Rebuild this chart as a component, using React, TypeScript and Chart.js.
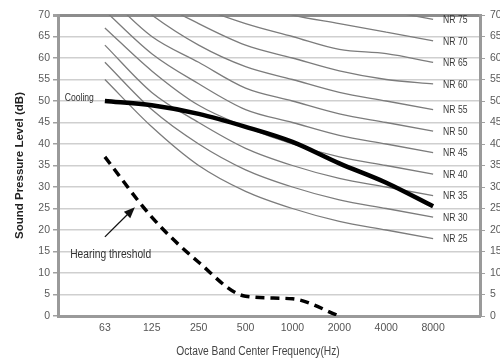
import { useEffect, useRef } from 'react';
import { Chart, registerables } from 'chart.js';

Chart.register(...registerables);

// Categories (blank ends give the margins before 63 Hz and after 8000 Hz)
const frequencies = ['', '63', '125', '250', '500', '1000', '2000', '4000', '8000', ''];

// NR curve values at 63 ... 8000 Hz
const nr25 = [null, 55, 44, 35, 29, 25, 22, 20, 18, null];
const nr30 = [null, 59, 48, 40, 34, 30, 27, 25, 23, null];
const nr35 = [null, 63, 52, 45, 39, 35, 32, 30, 28, null];
const nr40 = [null, 67, 57, 49, 44, 40, 37, 35, 33, null];
const nr45 = [null, 71, 61, 54, 48, 45, 42, 40, 38, null];
const nr50 = [null, 75, 65, 59, 53, 50, 47, 45, 43, null];
const nr55 = [null, 79, 70, 63, 58, 55, 52, 50, 48, null];
const nr60 = [null, 83, 74, 68, 63, 60, 57, 55, 54, null];
const nr65 = [null, 87, 78, 72, 68, 65, 62, 61, 59, null];
const nr70 = [null, 91, 83, 77, 73, 70, 68, 66, 64, null];
const nr75 = [null, 95, 87, 82, 78, 75, 73, 71, 69, null];

const nrCurves = [
  { label: 'NR 25', data: nr25 },
  { label: 'NR 30', data: nr30 },
  { label: 'NR 35', data: nr35 },
  { label: 'NR 40', data: nr40 },
  { label: 'NR 45', data: nr45 },
  { label: 'NR 50', data: nr50 },
  { label: 'NR 55', data: nr55 },
  { label: 'NR 60', data: nr60 },
  { label: 'NR 65', data: nr65 },
  { label: 'NR 70', data: nr70 },
  { label: 'NR 75', data: nr75 },
];

const cooling = [null, 50, 49, 47, 44, 40.5, 35.5, 31, 25.5, null];
const hearingThreshold = [null, 37, 23, 12.5, 4.6, 4, 0, null, null, null];

const yMin = 0;
const yMax = 70;
const yStep = 5;

const SANS = "'Liberation Sans', Arial, sans-serif";
const SQUEEZE = 0.82;

function narrowText(ctx: CanvasRenderingContext2D, text: string, x: number, y: number) {
  ctx.save();
  ctx.translate(x, y);
  ctx.scale(SQUEEZE, 1);
  ctx.fillText(text, 0, 0);
  ctx.restore();
}

const labelsPlugin = {
  id: 'nrLabels',
  afterDatasetsDraw(chart: any) {
    const ctx = chart.ctx;
    const xs = chart.scales.x;
    const ys = chart.scales.y;
    ctx.save();
    ctx.textBaseline = 'middle';
    // NR labels at the end of each curve
    ctx.font = `10.5px ${SANS}`;
    ctx.fillStyle = '#3a3a3a';
    ctx.textAlign = 'left';
    chart.data.datasets.forEach((ds: any, i: number) => {
      if (!ds.nrLabel) return;
      const meta = chart.getDatasetMeta(i);
      const pt = meta.data[8];
      if (!pt) return;
      narrowText(ctx, ds.nrLabel, pt.x + 10, pt.y + 1);
    });

    // Cooling label
    const coolMeta = chart.getDatasetMeta(0);
    const cp = coolMeta.data[1];
    ctx.font = `10.5px ${SANS}`;
    ctx.fillStyle = '#333';
    ctx.textAlign = 'right';
    narrowText(ctx, 'Cooling', cp.x - 11, cp.y - 3);

    // Hearing threshold annotation
    ctx.font = `12.5px ${SANS}`;
    ctx.textAlign = 'left';
    ctx.fillStyle = '#333';
    narrowText(ctx, 'Hearing threshold', xs.getPixelForValue(0.26), ys.getPixelForValue(14.2));

    const x1 = xs.getPixelForValue(1.0);
    const y1 = ys.getPixelForValue(18.4);
    const x2 = xs.getPixelForValue(1.64);
    const y2 = ys.getPixelForValue(25.3);
    const ang = Math.atan2(y2 - y1, x2 - x1);
    ctx.strokeStyle = '#111';
    ctx.fillStyle = '#111';
    ctx.lineWidth = 1.3;
    ctx.beginPath();
    ctx.moveTo(x1, y1);
    ctx.lineTo(x2 - 8 * Math.cos(ang), y2 - 8 * Math.sin(ang));
    ctx.stroke();
    ctx.beginPath();
    ctx.moveTo(x2, y2);
    ctx.lineTo(x2 - 11 * Math.cos(ang) + 4.5 * Math.sin(ang), y2 - 11 * Math.sin(ang) - 4.5 * Math.cos(ang));
    ctx.lineTo(x2 - 11 * Math.cos(ang) - 4.5 * Math.sin(ang), y2 - 11 * Math.sin(ang) + 4.5 * Math.cos(ang));
    ctx.closePath();
    ctx.fill();

    // x-axis title
    ctx.font = `12.5px ${SANS}`;
    ctx.fillStyle = '#444';
    ctx.textAlign = 'center';
    narrowText(ctx, 'Octave Band Center Frequency(Hz)', chart.width / 2 + 8, chart.height - 7.5);
    ctx.restore();
  },
};

export default function App() {
  const ref = useRef<HTMLCanvasElement>(null);

  useEffect(() => {
    if (!ref.current) return;
    const datasets: any[] = [
      {
        label: 'Cooling',
        data: cooling,
        borderColor: '#000',
        borderWidth: 4.5,
        pointRadius: 0,
        cubicInterpolationMode: 'monotone',
        order: 0,
      },
      {
        label: 'Hearing threshold',
        data: hearingThreshold,
        borderColor: '#000',
        borderWidth: 3.5,
        borderDash: [9, 6],
        borderCapStyle: 'butt',
        pointRadius: 0,
        cubicInterpolationMode: 'monotone',
        order: 1,
      },
      ...nrCurves.map((c) => ({
        label: c.label,
        nrLabel: c.label,
        data: c.data,
        borderColor: '#7c7c7c',
        borderWidth: 1.3,
        pointRadius: 0,
        cubicInterpolationMode: 'monotone',
        order: 2,
      })),
    ];

    const tickFont = { family: SANS, size: 10.5 };

    const chart = new Chart(ref.current, {
      type: 'line',
      data: { labels: frequencies, datasets },
      options: {
        animation: false,
        responsive: true,
        maintainAspectRatio: false,
        layout: { padding: { top: 15, left: 0, right: 0, bottom: 0 } },
        plugins: { legend: { display: false }, tooltip: { enabled: false } },
        scales: {
          x: {
            type: 'category',
            offset: false,
            afterFit: (s: any) => { s.height = 43; },
            grid: { drawOnChartArea: false, drawTicks: true, tickLength: 2, color: '#b0b0b0' },
            border: { color: '#9a9a9a', width: 3 },
            ticks: {
              autoSkip: false,
              maxRotation: 0,
              padding: 4,
              color: '#555',
              font: tickFont,
            },
          },
          y: {
            position: 'left',
            min: yMin,
            max: yMax,
            afterFit: (s: any) => { s.width = 58; },
            ticks: {
              stepSize: yStep,
              padding: 3,
              color: '#5a5a5a',
              font: tickFont,
            },
            grid: {
              color: (c: any) => (c.tick && c.tick.value === yMax ? '#8c8c8c' : '#cfcfcf'),
              lineWidth: (c: any) => (c.tick && c.tick.value === yMax ? 3 : 1.5),
              tickColor: '#a0a0a0',
              tickLength: 5,
            },
            border: { color: '#9a9a9a', width: 3 },
            title: {
              display: true,
              text: 'Sound Pressure Level (dB)',
              color: '#222',
              font: { family: SANS, size: 11.5, weight: 'bold' },
              padding: { top: 13, bottom: 0 },
            },
          },
          y2: {
            position: 'right',
            min: yMin,
            max: yMax,
            afterFit: (s: any) => { s.width = 20; },
            ticks: {
              stepSize: yStep,
              padding: 5,
              color: '#5a5a5a',
              font: tickFont,
            },
            grid: { drawOnChartArea: false, tickColor: '#a0a0a0', tickLength: 5 },
            border: { color: '#9a9a9a', width: 3 },
          },
        },
      },
      plugins: [labelsPlugin],
    } as any);
    return () => chart.destroy();
  }, []);

  return (
    <div style={{ position: 'absolute', left: 0, top: 0, width: 500, height: 359, background: '#fff' }}>
      <canvas ref={ref} />
    </div>
  );
}
